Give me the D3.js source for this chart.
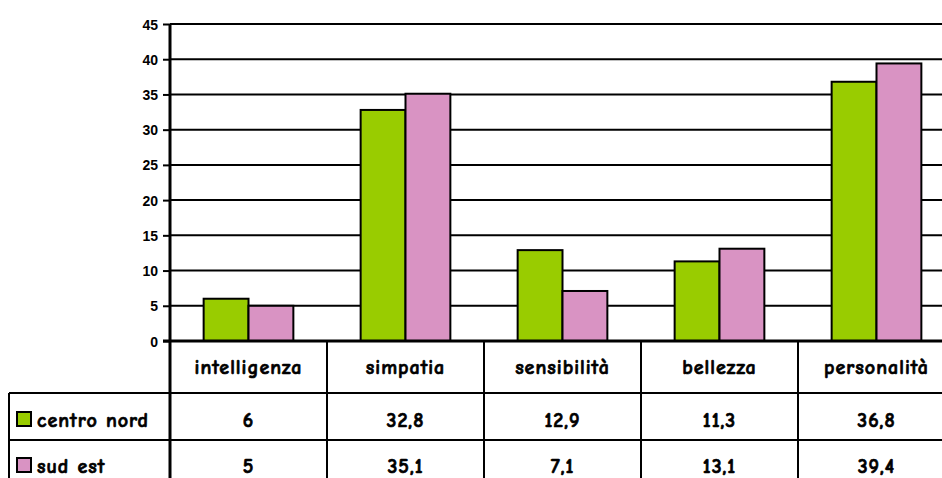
<!DOCTYPE html>
<html>
<head>
<meta charset="utf-8">
<script src="https://cdn.jsdelivr.net/npm/d3@7"></script>
<style>
  body { margin: 0; background: #fff; }
  svg { display: block; }
  .tbl text { font-family: "Comic Sans MS", "Comic Neue", "DejaVu Sans", sans-serif; font-weight: bold; font-size: 20px; letter-spacing: 1px; fill: #000; stroke: #000; stroke-width: 0.7px; }
  .yaxis text { font-family: "Liberation Sans", Arial, sans-serif; font-weight: bold; font-size: 14px; fill: #000; }
</style>
</head>
<body>
<script>
const categories = ["intelligenza", "simpatia", "sensibilità", "bellezza", "personalità"];
const seriesNames = ["centro nord", "sud est"];
const centroNord = [6, 32.8, 12.9, 11.3, 36.8];
const sudEst = [5, 35.1, 7.1, 13.1, 39.4];
const valueLabels = [
    ["6", "32,8", "12,9", "11,3", "36,8"],
    ["5", "35,1", "7,1", "13,1", "39,4"]
];
const yTicks = [0, 5, 10, 15, 20, 25, 30, 35, 40, 45];
const colors = ["#99cc00", "#d993c3"];

const width = 942;
const height = 478;
const plotLeft = 170, plotTop = 24, plotBottom = 341, catWidth = 157;
const rowLines = [341, 393, 440, 500];
const legendLeft = 9;

const series = [centroNord, sudEst];

const svg = d3.select("body").append("svg")
    .attr("width", width)
    .attr("height", height);

const x = d3.scaleBand()
    .domain(categories)
    .range([plotLeft, plotLeft + catWidth * categories.length]);

const xs = d3.scaleBand()
    .domain(seriesNames)
    .range([0, x.bandwidth()])
    .paddingInner(0)
    .paddingOuter(0.75);

const y = d3.scaleLinear()
    .domain([0, 45])
    .range([plotBottom, plotTop]);

// gridlines
svg.append("g")
    .selectAll("line")
    .data(yTicks.filter(d => d > 0))
    .enter()
    .append("line")
    .attr("x1", plotLeft)
    .attr("x2", x.range()[1])
    .attr("y1", d => y(d))
    .attr("y2", d => y(d))
    .attr("stroke", "#000")
    .attr("stroke-width", 2);

// bars
series.forEach((vals, i) => {
    svg.append("g")
        .selectAll("rect")
        .data(vals)
        .enter()
        .append("rect")
        .attr("x", (d, j) => x(categories[j]) + xs(seriesNames[i]))
        .attr("y", d => y(d))
        .attr("width", xs.bandwidth())
        .attr("height", d => y(0) - y(d))
        .attr("fill", colors[i])
        .attr("stroke", "#000")
        .attr("stroke-width", 2);
});

// y axis
const yAxis = svg.append("g")
    .attr("class", "yaxis")
    .attr("transform", `translate(${plotLeft},0)`)
    .call(d3.axisLeft(y).tickValues(yTicks).tickSize(7).tickPadding(5).tickFormat(d3.format("d")));
yAxis.select(".domain").remove();
yAxis.selectAll(".tick line").attr("stroke", "#000").attr("stroke-width", 2);
yAxis.selectAll(".tick text").attr("dy", "0.36em");

// data table
const tbl = svg.append("g").attr("class", "tbl");
const xEnd = x.range()[1];

// horizontal lines
tbl.append("line")
    .attr("x1", plotLeft - 7).attr("x2", xEnd)
    .attr("y1", rowLines[0]).attr("y2", rowLines[0])
    .attr("stroke", "#000").attr("stroke-width", 3);
tbl.selectAll("line.h")
    .data(rowLines.slice(1, 3))
    .enter()
    .append("line")
    .attr("class", "h")
    .attr("x1", legendLeft).attr("x2", xEnd)
    .attr("y1", d => d).attr("y2", d => d)
    .attr("stroke", "#000").attr("stroke-width", 2);

// vertical lines between columns
tbl.selectAll("line.v")
    .data(categories.slice(1))
    .enter()
    .append("line")
    .attr("class", "v")
    .attr("x1", d => x(d)).attr("x2", d => x(d))
    .attr("y1", rowLines[0]).attr("y2", height)
    .attr("stroke", "#000").attr("stroke-width", 2);

// legend column border
tbl.append("line")
    .attr("x1", legendLeft).attr("x2", legendLeft)
    .attr("y1", rowLines[1]).attr("y2", height)
    .attr("stroke", "#000").attr("stroke-width", 2);

// y axis line (continues through table)
svg.append("line")
    .attr("x1", plotLeft).attr("x2", plotLeft)
    .attr("y1", plotTop).attr("y2", height)
    .attr("stroke", "#000").attr("stroke-width", 3);

// header text
tbl.selectAll("text.cat")
    .data(categories)
    .enter()
    .append("text")
    .attr("class", "cat")
    .attr("x", d => x(d) + x.bandwidth() / 2)
    .attr("y", 374)
    .attr("text-anchor", "middle")
    .text(d => d);

// values rows
const rowBase = [427, 473];
valueLabels.forEach((labels, i) => {
    tbl.selectAll("text.v" + i)
        .data(labels)
        .enter()
        .append("text")
        .attr("class", "v" + i)
        .attr("x", (d, j) => x(categories[j]) + x.bandwidth() / 2)
        .attr("y", rowBase[i])
        .attr("text-anchor", "middle")
        .text(d => d);

    tbl.append("rect")
        .attr("x", 17).attr("y", rowBase[i] - 15)
        .attr("width", 14).attr("height", 14)
        .attr("fill", colors[i])
        .attr("stroke", "#000").attr("stroke-width", 2);

    tbl.append("text")
        .attr("x", 37)
        .attr("y", rowBase[i])
        .text(seriesNames[i]);
});
</script>
</body>
</html>
